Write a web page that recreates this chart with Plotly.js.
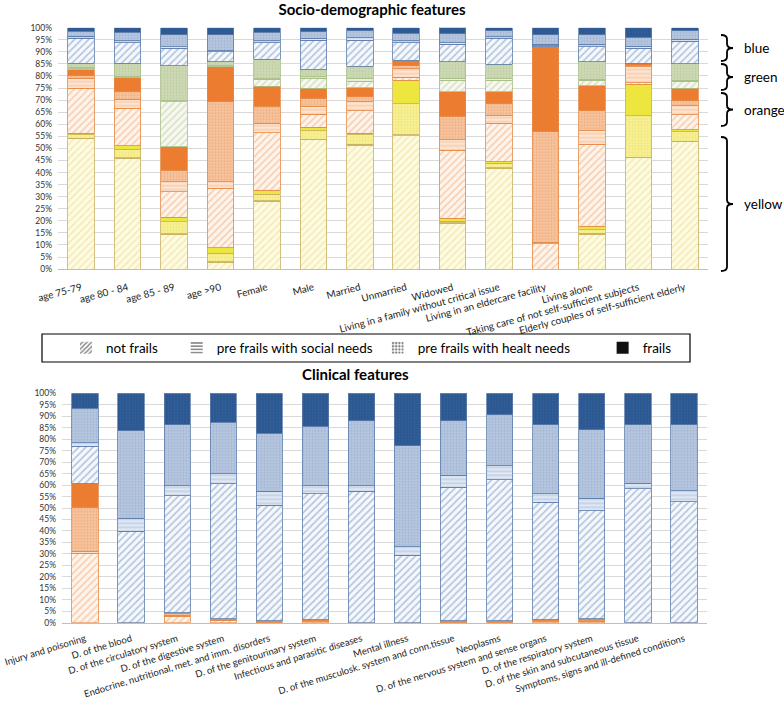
<!DOCTYPE html>
<html>
<head>
<meta charset="utf-8">
<script src="https://cdn.plot.ly/plotly-3.0.1.min.js"></script>
<style>html,body{margin:0;padding:0;background:#fff;}#chart{width:784px;height:712px;}</style>
</head>
<body>
<div id="chart"></div>
<script>
// ---------- DATA ----------
const socioCategories = ["age 75-79","age 80 - 84","age 85 - 89","age >90","Female","Male","Married","Unmarried","Widowed","Living in a family without critical issue","Living in an eldercare facility","Living alone","Taking care of not self-sufficient subjects","Elderly couples of self-sufficient elderly"];
const clinicalCategories = ["Injury and poisoning","D. of the blood","D. of the circulatory system","D. of the digestive system","Endocrine, nutritional, met. and imm. disorders","D. of the genitourinary system","Infectious and parasitic diseases","Mental illness","D. of the musculosk. system and conn.tissue","Neoplasms","D. of the nervous system and sense organs","D. of the respiratory system","D. of the skin and subcutaneous tissue","Symptoms, signs and ill-defined conditions"];
const frailtyLabels = ["not frails","pre frails with social needs","pre frails with healt needs","frails"];
const colourGroups = ["blue","green","orange","yellow"];

// Socio-demographic (percent)
const yellowNot    = [53.9,45.9,14.4,2.8,28.2,53.5,51.4,55.2,18.9,41.7,0,14.5,46.1,52.8];
const yellowSocial = [0.3,0.2,0.2,0.3,0.2,0.2,0.3,0.5,0.2,0.2,0,0.3,0.2,0.2];
const yellowHealth = [1.5,3.5,5.0,3.4,2.7,3.6,3.9,12.9,0.8,1.9,0,1.4,17.2,4.0];
const yellowFrail  = [0.5,1.5,1.8,2.3,1.6,1.4,0.7,9.7,1.1,0.7,0,1.6,13.0,0.7];
const orangeNot    = [18.7,15.5,10.6,24.6,23.8,5.5,9.2,1.1,28.3,15.9,10.4,34.0,0.7,6.2];
const orangeSocial = [4.1,3.8,4.2,2.8,3.9,3.3,3.8,3.7,4.2,3.4,0.8,5.5,6.6,3.7];
const orangeHealth = [1.0,3.1,4.8,33.1,7.1,3.2,2.1,1.2,9.9,4.8,45.7,8.3,0.7,2.1];
const orangeFrail  = [2.5,5.8,9.7,14.5,8.3,4.2,3.7,2.3,10.1,4.9,35.2,10.4,0.7,5.2];
const greenNot     = [0.5,0,18.6,0,2.8,4.1,2.8,0,4.8,4.8,0,2.3,0,3.0];
const greenSocial  = [0.5,0.5,0.5,0.5,0.3,0.7,1.1,0,0.7,0.5,0,0.4,0,0.4];
const greenHealth  = [1.7,5.4,14.5,1.6,8.0,3.0,5.1,0,6.9,6.0,0,7.2,0,6.7];
const blueNot      = [10.4,8.6,7.1,4.2,6.9,12.2,10.8,7.2,7.3,10.8,0.5,6.2,6.2,9.3];
const blueSocial   = [0.8,0.8,0.7,0.4,0.8,0.7,1.0,0.8,0.6,0.7,0.5,1.1,1.0,0.9];
const blueHealth   = [2.2,3.5,4.9,6.5,3.5,2.7,2.8,3.1,3.6,2.5,3.9,3.8,3.6,3.5];
const blueFrail    = [1.4,1.9,3.0,3.0,1.9,1.7,1.3,2.3,3.2,1.2,3.0,3.0,4.0,1.3];

// Clinical (percent)
const clinOrangeNot    = [30.3,0,2.8,0.8,0.3,0.4,0,0,0.3,0.3,0.4,0.7,0,0];
const clinOrangeSocial = [0.9,0,0.5,0.2,0.1,0.1,0,0,0.1,0.1,0.1,0.2,0,0];
const clinOrangeHealth = [19.2,0,0.5,0.5,0.2,0.4,0,0,0.2,0.2,0.4,0.4,0,0];
const clinOrangeFrail  = [10.1,0,0.6,0.3,0.3,0.3,0,0,0.3,0.3,0.3,0.4,0,0];
const clinBlueNot      = [16.4,39.8,51.0,58.7,50.2,55.0,57.2,29.3,58.2,61.4,51.3,47.2,58.3,52.8];
const clinBlueSocial   = [1.5,5.8,4.4,4.4,6.1,3.6,2.6,3.9,5.1,6.2,3.7,5.4,2.5,4.8];
const clinBlueHealth   = [15.1,38.1,26.4,22.5,25.4,25.8,28.3,44.0,23.9,22.1,30.0,29.9,25.4,28.6];
const clinBlueFrail    = [6.5,16.3,13.8,12.6,17.4,14.4,11.9,22.8,11.9,9.4,13.8,15.8,13.8,13.8];

// ---------- STYLES ----------
const ST = {
  yellow:{line:'#c9b062',
    not:{shape:'/',bg:'#fefbe2',fg:'#e6db8a',size:5,sol:0.3},
    social:{shape:'-',bg:'#fdf8cc',fg:'#e2d36a',size:4,sol:0.3},
    health:{shape:'.',bg:'#f8f19a',fg:'#e6d94e',size:3,sol:0.4},
    frail:{shape:'',bg:'#ede63e'}},
  orange:{line:'#e68a46',
    not:{shape:'/',bg:'#fef4ec',fg:'#f2a46c',size:5,sol:0.3},
    social:{shape:'-',bg:'#fde4d1',fg:'#f2b083',size:4,sol:0.35},
    health:{shape:'.',bg:'#f7c6a2',fg:'#ea9357',size:3,sol:0.4},
    frail:{shape:'',bg:'#ec7c30'}},
  green:{line:'#a8be86',
    not:{shape:'/',bg:'#f7f9f1',fg:'#b5c896',size:5,sol:0.3},
    social:{shape:'-',bg:'#e9efdd',fg:'#b6c995',size:4,sol:0.35},
    health:{shape:'.',bg:'#cfdab7',fg:'#abbd8b',size:3,sol:0.4},
    frail:{shape:'',bg:'#9bbb59'}},
  blue:{line:'#5e7dab',
    not:{shape:'/',bg:'#f5f8fc',fg:'#6f8dbb',size:5,sol:0.32},
    social:{shape:'-',bg:'#dfe7f2',fg:'#9db2d3',size:4,sol:0.35},
    health:{shape:'.',bg:'#b8c8df',fg:'#8aa2c7',size:3,sol:0.4},
    frail:{shape:'.',bg:'#2b5791',fg:'#3f6aa2',size:3,sol:0.3}}
};

function seg(cats, vals, group, kind, xa, ya){
  const s = ST[group][kind];
  const m = {color:s.bg, line:{color:ST[group].line, width:0.8}};
  if (s.shape) m.pattern = {shape:s.shape, fgcolor:s.fg, bgcolor:s.bg, size:s.size, solidity:s.sol, fillmode:'overlay'};
  return {type:'bar', x:cats, y:vals, xaxis:xa, yaxis:ya, marker:m, showlegend:false, hoverinfo:'skip',
          name:group+' '+kind};
}

const traces = [
  seg(socioCategories, yellowNot,'yellow','not','x','y'),
  seg(socioCategories, yellowSocial,'yellow','social','x','y'),
  seg(socioCategories, yellowHealth,'yellow','health','x','y'),
  seg(socioCategories, yellowFrail,'yellow','frail','x','y'),
  seg(socioCategories, orangeNot,'orange','not','x','y'),
  seg(socioCategories, orangeSocial,'orange','social','x','y'),
  seg(socioCategories, orangeHealth,'orange','health','x','y'),
  seg(socioCategories, orangeFrail,'orange','frail','x','y'),
  seg(socioCategories, greenNot,'green','not','x','y'),
  seg(socioCategories, greenSocial,'green','social','x','y'),
  seg(socioCategories, greenHealth,'green','health','x','y'),
  seg(socioCategories, blueNot,'blue','not','x','y'),
  seg(socioCategories, blueSocial,'blue','social','x','y'),
  seg(socioCategories, blueHealth,'blue','health','x','y'),
  seg(socioCategories, blueFrail,'blue','frail','x','y'),
  seg(clinicalCategories, clinOrangeNot,'orange','not','x2','y2'),
  seg(clinicalCategories, clinOrangeSocial,'orange','social','x2','y2'),
  seg(clinicalCategories, clinOrangeHealth,'orange','health','x2','y2'),
  seg(clinicalCategories, clinOrangeFrail,'orange','frail','x2','y2'),
  seg(clinicalCategories, clinBlueNot,'blue','not','x2','y2'),
  seg(clinicalCategories, clinBlueSocial,'blue','social','x2','y2'),
  seg(clinicalCategories, clinBlueHealth,'blue','health','x2','y2'),
  seg(clinicalCategories, clinBlueFrail,'blue','frail','x2','y2')
];

// legend-only entries (black swatches); trailing no-break spaces only widen the entry
const legendShapes = ['/','-','.',''];
const legendPad = [4, 0, 8, 0];
frailtyLabels.forEach((lab,i)=>{
  const m = {color:i===3?'#111':'#fff', line:{width:0}};
  if (legendShapes[i]) m.pattern = {shape:legendShapes[i], fgcolor:'#000', bgcolor:'#fff', size:4, solidity:0.45, fillmode:'overlay'};
  traces.push({type:'bar', x:socioCategories, y:socioCategories.map(()=>0), xaxis:'x', yaxis:'y',
    name:lab + '\u00A0'.repeat(legendPad[i]), marker:m, showlegend:true, hoverinfo:'skip'});
});

// ---------- LAYOUT ----------
const W=784, H=712;
const PX = x => x/W, PY = y => 1 - y/H;
const FONT = 'Lato, "Liberation Sans", sans-serif';

const braces = [
  {y1:35, y2:61, label:colourGroups[0]},
  {y1:64, y2:90, label:colourGroups[1]},
  {y1:93, y2:126, label:colourGroups[2]},
  {y1:137, y2:271, label:colourGroups[3]}
];
const shapes = [];
const annotations = [];
braces.forEach(b=>{
  const mid=(b.y1+b.y2)/2, xl=721, xm=727, xr=733;
  const P=(x,y)=>PX(x).toFixed(5)+','+PY(y).toFixed(5);
  const path = 'M'+P(xl,b.y1)+' Q'+P(xm,b.y1)+' '+P(xm,b.y1+4)+' L'+P(xm,mid-4)+' Q'+P(xm,mid)+' '+P(xr,mid)+
               ' Q'+P(xm,mid)+' '+P(xm,mid+4)+' L'+P(xm,b.y2-4)+' Q'+P(xm,b.y2)+' '+P(xl,b.y2);
  shapes.push({type:'path', xref:'paper', yref:'paper', path:path, line:{color:'#000', width:1.8}});
  annotations.push({xref:'paper', yref:'paper', x:PX(742), y:PY(mid), xanchor:'left', yanchor:'middle',
    text:b.label, showarrow:false, font:{family:FONT, size:13.5, color:'#000'}});
});
// legend box
shapes.push({type:'rect', xref:'paper', yref:'paper', x0:PX(42), x1:PX(690), y0:PY(334), y1:PY(362),
  line:{color:'#000', width:1.2}, fillcolor:'rgba(0,0,0,0)'});
annotations.push({xref:'paper', yref:'paper', x:PX(355), y:PY(374), xanchor:'center', yanchor:'middle',
  text:'<b>Clinical features</b>', showarrow:false, font:{family:FONT, size:15, color:'#000'}});

const yax = {range:[0,100], dtick:5, ticksuffix:'%', tickfont:{family:FONT, size:8.5, color:'#333'},
  gridcolor:'#d9d9d9', gridwidth:1, zeroline:false, showline:false, ticks:'', automargin:false, fixedrange:true, ticklabelstandoff:5};
const xax = {type:'category', showline:true,
  linecolor:'#bfbfbf', linewidth:1, ticks:'', automargin:false, fixedrange:true, showgrid:false};

const layout = {
  width:W, height:H, margin:{l:0,r:0,t:0,b:0}, paper_bgcolor:'#fff', plot_bgcolor:'#fff',
  barmode:'stack', bargap:0.43,
  font:{family:FONT, color:'#000'},
  title:{text:'<b>Socio-demographic features</b>', x:PX(372), xanchor:'center', y:PY(10), yanchor:'middle', yref:'container', xref:'container',
    font:{family:FONT, size:15, color:'#000'}},
  xaxis:Object.assign({}, xax, {domain:[PX(58),PX(708)], anchor:'y', tickangle:-15, ticklabelstandoff:8,
    tickfont:{family:FONT, size:10, color:'#222'}}),
  yaxis:Object.assign({}, yax, {domain:[PY(269.1),PY(27.7)], anchor:'x'}),
  xaxis2:Object.assign({}, xax, {domain:[PX(62),PX(707)], anchor:'y2', tickangle:-17, ticklabelstandoff:6,
    tickfont:{family:FONT, size:9.5, color:'#222'}}),
  yaxis2:Object.assign({}, yax, {domain:[PY(622.7),PY(393.3)], anchor:'x2'}),
  showlegend:true,
  legend:{orientation:'h', x:PX(66), xanchor:'left', y:PY(348), yanchor:'middle', xref:'paper', yref:'paper',
    bgcolor:'rgba(0,0,0,0)', borderwidth:0, font:{family:FONT, size:13.5, color:'#000'},
    itemwidth:30, traceorder:'normal'},
  shapes:shapes, annotations:annotations
};

Plotly.newPlot('chart', traces, layout, {displayModeBar:false, staticPlot:true});
</script>
</body>
</html>
